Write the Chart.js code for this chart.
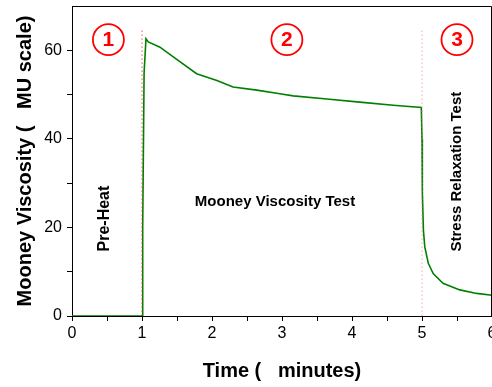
<!DOCTYPE html>
<html>
<head>
<meta charset="utf-8">
<script src="https://cdn.jsdelivr.net/npm/chart.js@4"></script>
<style>
  body { margin: 0; background: #fff; overflow: hidden; }
  #wrap { width: 500px; height: 387px; }
</style>
</head>
<body>
<div id="wrap"><canvas id="myChart"></canvas></div>
<script>
// Mooney viscometer curve: time (minutes) vs viscosity (MU)
var timeMin = [0, 1.0, 1.01, 1.03, 1.057, 1.09, 1.257, 1.447, 1.78, 2.07, 2.3, 2.64, 2.97, 3.16, 3.64, 4.11, 4.59, 4.99,
  5.0, 5.005, 5.02, 5.04, 5.09, 5.16, 5.3, 5.54, 5.78, 6.0];
var viscosity = [0, 0, 20, 55, 62.6, 61.9, 60.7, 58.5, 54.7, 53.2, 51.7, 51.0, 50.2, 49.7, 49.0, 48.3, 47.6, 47.1,
  40, 28, 19.4, 15.6, 11.9, 9.6, 7.4, 5.9, 5.1, 4.7];

// phase boundaries (dotted markers)
var phaseTimes = [1, 5];
var phaseTop = 64.5;

// circled phase numbers
var phaseNums = ["1", "2", "3"];
var phaseNumX = [0.52, 3.07, 5.5];
var phaseNumY = 62.4;

// phase captions
var captions = ["Pre-Heat", "Mooney Viscosity Test", "Stress Relaxation Test"];
var captionX = [0.46, 2.9, 5.5];
var captionY = [22, 25.8, 32.6];
var captionRot = [true, false, true];

var xTicks = [0, 1, 2, 3, 4, 5, 6];
var yTicks = [0, 20, 40, 60];

var FONT = "'Liberation Sans', Arial, sans-serif";

var curve = timeMin.map(function (t, i) { return { x: t, y: viscosity[i] }; });

function markerData(t) {
  return [{ x: t, y: 0 }, { x: t, y: phaseTop }];
}

var annotations = {
  id: "annotations",
  afterDraw: function (chart) {
    var ctx = chart.ctx;
    var xs = chart.scales.x, ys = chart.scales.y;
    var area = chart.chartArea;
    ctx.save();
    // box frame (top and right)
    ctx.strokeStyle = "#000";
    ctx.lineWidth = 1;
    ctx.beginPath();
    ctx.moveTo(area.left, area.top + 0.5);
    ctx.lineTo(area.right - 0.5, area.top + 0.5);
    ctx.lineTo(area.right - 0.5, area.bottom);
    ctx.stroke();

    // circled numbers
    ctx.textAlign = "center";
    ctx.textBaseline = "middle";
    phaseNums.forEach(function (n, i) {
      var px = xs.getPixelForValue(phaseNumX[i]);
      var py = ys.getPixelForValue(phaseNumY);
      ctx.strokeStyle = "#ff0000";
      ctx.lineWidth = 1.8;
      ctx.beginPath();
      ctx.arc(px, py, 15.5, 0, Math.PI * 2);
      ctx.stroke();
      ctx.fillStyle = "#ff0000";
      ctx.font = "bold 21px " + FONT;
      ctx.fillText(n, px, py + 1);
    });

    // captions
    ctx.fillStyle = "#000";
    captions.forEach(function (c, i) {
      var px = xs.getPixelForValue(captionX[i]);
      var py = ys.getPixelForValue(captionY[i]);
      ctx.font = "bold " + (i === 0 ? 16 : 15) + "px " + FONT;
      ctx.save();
      ctx.translate(px, py);
      if (captionRot[i]) ctx.rotate(-Math.PI / 2);
      ctx.fillText(c, 0, 0);
      ctx.restore();
    });
    ctx.restore();
  }
};

var ctx = document.getElementById("myChart").getContext("2d");

new Chart(ctx, {
  type: "scatter",
  data: {
    datasets: [
      {
        data: markerData(phaseTimes[0]),
        showLine: true,
        borderColor: "rgba(255,40,40,0.8)",
        borderWidth: 1,
        borderDash: [1.5, 2.5],
        pointRadius: 0,
      },
      {
        data: markerData(phaseTimes[1]),
        showLine: true,
        borderColor: "rgba(255,120,150,0.7)",
        borderWidth: 1,
        borderDash: [1.5, 2.5],
        pointRadius: 0,
      },
      {
        data: curve,
        showLine: true,
        borderColor: "#008000",
        borderWidth: 1.6,
        pointRadius: 0,
        tension: 0,
      },
    ],
  },
  options: {
    responsive: true,
    maintainAspectRatio: false,
    animation: false,
    layout: { padding: { top: 6, right: 8, left: 0, bottom: 0 } },
    plugins: {
      legend: { display: false },
      tooltip: { enabled: false },
    },
    scales: {
      x: {
        type: "linear",
        min: 0,
        max: 6,
        border: { color: "#000", width: 1 },
        grid: { drawOnChartArea: false, tickLength: 5, color: "#000" },
        ticks: {
          stepSize: 0.5,
          autoSkip: false,
          maxRotation: 0,
          padding: 3,
          color: "#000",
          font: { family: FONT, size: 16 },
          callback: function (v) { return xTicks.indexOf(v) >= 0 ? String(v) : ""; },
        },
        title: {
          display: true,
          text: "Time (   minutes)",
          color: "#000",
          font: { family: FONT, size: 20, weight: "bold" },
          padding: { top: 0, bottom: 4 },
        },
        afterFit: function (scale) {
          scale.height = 71;
          scale.paddingLeft = 0;
          scale.paddingRight = 0;
        },
      },
      y: {
        type: "linear",
        min: 0,
        max: 70,
        border: { color: "#000", width: 1 },
        grid: {
          drawOnChartArea: false,
          tickLength: 5,
          color: function (c) { return c.tick && c.tick.value === 70 ? "rgba(0,0,0,0)" : "#000"; },
        },
        ticks: {
          stepSize: 10,
          autoSkip: false,
          padding: 5,
          color: "#000",
          font: { family: FONT, size: 16 },
          callback: function (v) { return yTicks.indexOf(v) >= 0 ? String(v) : ""; },
        },
        title: {
          display: true,
          text: "Mooney Viscosity (   MU scale)",
          color: "#000",
          font: { family: FONT, size: 20, weight: "bold" },
          padding: { top: 13, bottom: 0 },
        },
        afterFit: function (scale) {
          scale.width = 72;
          scale.paddingTop = 0;
          scale.paddingBottom = 0;
        },
      },
    },
  },
  plugins: [annotations],
});
</script>
</body>
</html>
